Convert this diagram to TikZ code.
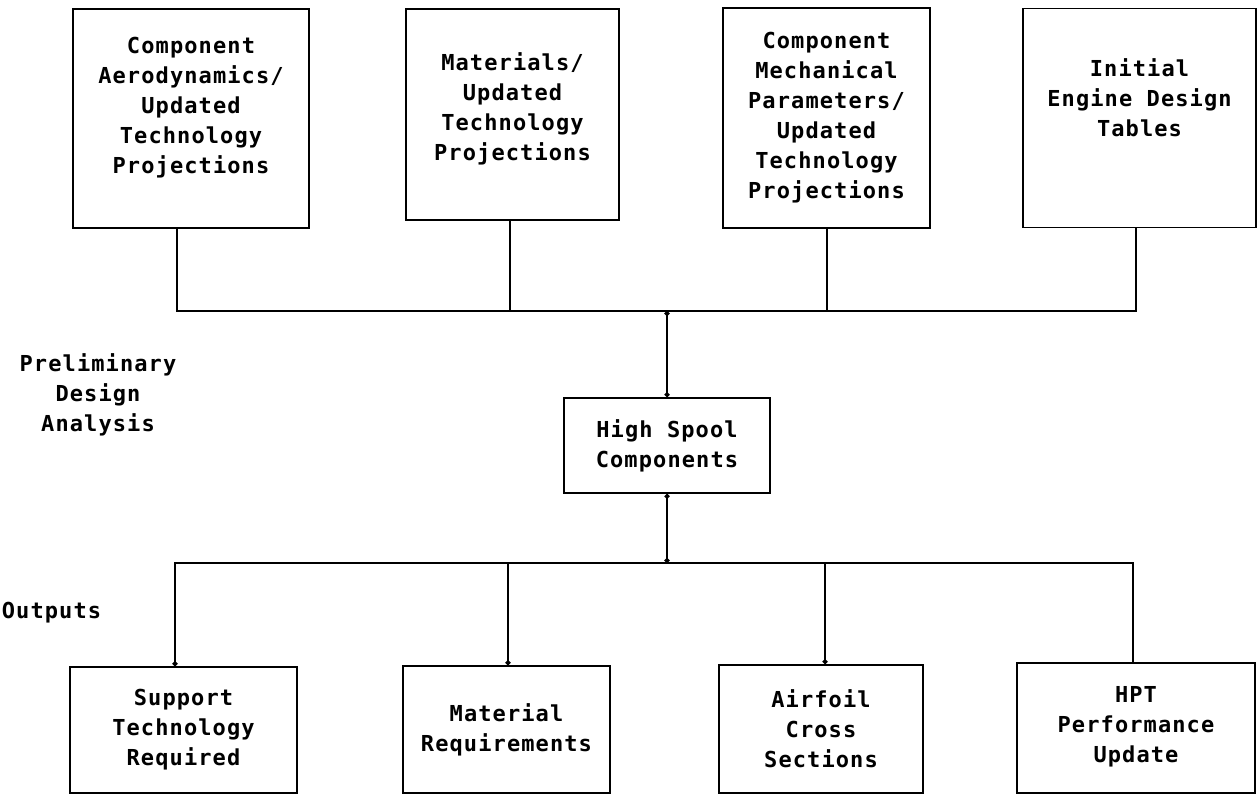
\documentclass[tikz,border=0pt]{standalone}
\usepackage{fontspec}
\usepackage{tikz}
\usetikzlibrary{arrows.meta}
\newfontfamily\typewr[LetterSpace=5]{DejaVu Sans Mono Bold}

\begin{document}
\begin{tikzpicture}[x=1pt, y=-1pt, line width=1.7pt,
    font=\typewr\fontsize{22}{30}\selectfont,
    blk/.style={draw, align=center, inner sep=0pt},
    dotend/.style={-{Circle[length=5pt]}},
    dotboth/.style={{Circle[length=5pt]}-{Circle[length=5pt]}}]
    \useasboundingbox (0,0) rectangle (1258,794);
    % inputs
    \node[blk, minimum width=236pt, minimum height=219pt] (top1) at (191,118.5)
        {Component\\Aerodynamics/\\Updated\\Technology\\Projections\rule[-26pt]{0pt}{26pt}};
    \node[blk, minimum width=213pt, minimum height=211pt] (top2) at (512.5,114.5)
        {Materials/\\Updated\\Technology\\Projections\rule[-16pt]{0pt}{16pt}};
    \node[blk, minimum width=207pt, minimum height=220pt] (top3) at (826.5,118)
        {Component\\Mechanical\\Parameters/\\Updated\\Technology\\Projections};
    \node[blk, minimum width=233pt, minimum height=219pt] (top4) at (1139.5,118)
        {Initial\\Engine Design\\Tables\rule[-40pt]{0pt}{40pt}};
    % analysis
    \node[blk, minimum width=206pt, minimum height=95pt] (hs) at (667,445.5)
        {High Spool\\Components};
    % outputs
    \node[blk, minimum width=227pt, minimum height=126pt] (out1) at (183.5,730)
        {Support\\Technology\\Required};
    \node[blk, minimum width=207pt, minimum height=127pt] (out2) at (506.5,729.5)
        {Material\\Requirements};
    \node[blk, minimum width=204pt, minimum height=128pt] (out3) at (821,729)
        {Airfoil\\Cross\\Sections};
    \node[blk, minimum width=238pt, minimum height=130pt] (out4) at (1136,728)
        {HPT\\Performance\\Update\rule[-8pt]{0pt}{8pt}};
    % side labels
    \node[align=center] (prelim) at (98,395) {Preliminary\\Design\\Analysis};
    \node[anchor=west, inner sep=0pt] (outlbl) at (1,613) {Outputs};

    \coordinate (topbus) at (667,311);
    \coordinate (botbus) at (667,563);
    \draw ([xshift=-14pt]top1.south) |- (topbus);
    \draw ([xshift=-2.5pt]top2.south) |- (topbus);
    \draw ([xshift=0.5pt]top3.south) |- (topbus);
    \draw ([xshift=-3.5pt]top4.south) |- (topbus);
    \draw[dotboth] (topbus) -- (hs.north);
    \draw[dotboth] (hs.south) -- (botbus);
    \draw[dotend] (botbus) -| ([xshift=-8.5pt]out1.north);
    \draw[dotend] (botbus) -| ([xshift=1.5pt]out2.north);
    \draw[dotend] (botbus) -| ([xshift=4pt]out3.north);
    \draw (botbus) -| ([xshift=-3pt]out4.north);
\end{tikzpicture}
\end{document}
